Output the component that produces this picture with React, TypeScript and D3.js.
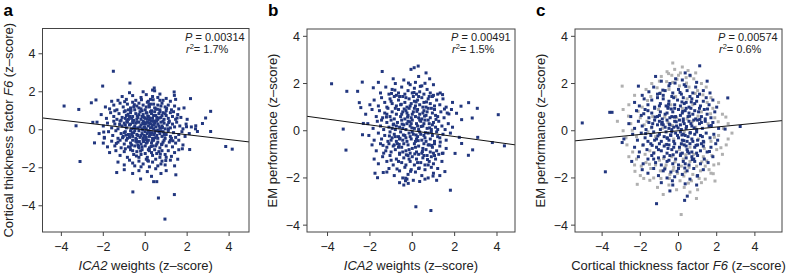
import React from "react";
import * as d3 from "d3";

// ---------- DATA ----------
const xTicks = [-4, -2, 0, 2, 4];
const yTicks = [-4, -2, 0, 2, 4];

const statP = ["0.00314", "0.00491", "0.00574"];
const statR2 = ["1.7%", "1.5%", "0.6%"];
const fitSlope = [-0.128, -0.123, 0.079];
const fitIntercept = [-0.005, 0.0, 0.0];

// panel a: ICA2 weights vs cortical thickness factor F6
const pointsA: [number, number][] = [
  [-1.52,3.08],[-2.03,2.3],[-0.73,2.46],[-3.87,1.25],[-3.17,1.07],[-2.57,1.42],[-2.35,1.57],[-3.3,0.21],[-2.42,-0.69],[-3.11,-1.67],
  [-1.36,-2.25],[-0.59,-3.27],[0.63,-3.59],[1.39,-3.41],[0.94,-4.7],[3.84,-0.88],[4.15,-1.02],[3.12,0.97],[2.88,0.62],[2.73,0.33],
  [3.12,-0.09],[2.16,1.64],[1.38,1.99],[1.39,1.81],[2.12,-1.04],[1.77,-1.0],[1.46,-2.37],[0.4,-2.73],[0.55,-2.73],[-0.22,-2.59],
  [-2.5,0.39],[-1.95,-0.44],[-1.98,-0.12],[0.43,2.2],[0.35,2.09],[0.7,1.88],[2.41,0.21],[2.49,-0.09],[1.97,0.16],
  [-1.1,1.75],[-0.9,1.6],[-0.6,1.8],[-0.45,1.55],[-0.2,1.7],[0.05,1.85],[0.25,1.6],[0.45,2.05],[0.6,1.7],[0.85,1.55],[1.0,1.65],[1.2,1.5],[-1.3,1.55],[-0.75,1.95],[0.15,1.5],[-0.1,2.0],[0.7,1.55],[1.45,1.6],[-1.6,1.5],[0.35,1.75],
  [-1.9,1.2],[-1.7,1.1],[-1.5,1.3],[-1.35,1.05],[-1.2,1.4],[-1.05,1.2],[-0.95,1.0],[-0.85,1.35],[-0.7,1.15],[-0.6,1.45],[-0.5,1.05],[-0.4,1.25],[-0.3,1.4],[-0.2,1.1],[-0.1,1.3],[0.0,1.05],[0.1,1.45],[0.2,1.2],[0.3,1.0],[0.4,1.35],[0.5,1.1],[0.6,1.3],[0.7,1.05],[0.8,1.4],[0.95,1.2],[1.1,1.3],[1.25,1.05],[1.4,1.25],[1.6,1.1],[-0.55,1.2],[0.25,1.35],[-0.15,1.0],[0.75,1.25],[1.85,1.15],[-1.45,1.0],[0.05,1.2],[-0.8,1.05],[0.45,1.15],[1.0,1.0],[-0.3,1.15],
  [-2.1,0.8],[-1.85,0.6],[-1.65,0.9],[-1.5,0.7],[-1.35,0.55],[-1.25,0.85],[-1.1,0.65],[-1.0,0.95],[-0.9,0.75],[-0.8,0.55],[-0.7,0.9],[-0.6,0.7],[-0.55,0.5],[-0.45,0.85],[-0.35,0.65],[-0.25,0.95],[-0.2,0.55],[-0.1,0.8],[0.0,0.6],[0.05,0.9],[0.15,0.7],[0.2,0.5],[0.3,0.85],[0.35,0.6],[0.45,0.95],[0.5,0.75],[0.6,0.55],[0.65,0.85],[0.75,0.65],[0.85,0.9],[0.9,0.55],[1.0,0.75],[1.1,0.6],[1.2,0.9],[1.3,0.7],[1.45,0.55],[1.55,0.8],[1.7,0.65],[2.0,0.55],[-0.75,0.7],[-0.05,0.65],[0.4,0.75],[-0.4,0.55],[0.25,0.95],[-1.15,0.5],[0.55,0.65],[-0.3,0.8],[0.1,0.55],[0.8,0.75],[-0.95,0.6],[0.7,0.95],[-0.15,0.7],[1.35,0.95],[-0.65,0.6],[0.95,0.85],
  [-2.3,0.4],[-2.0,0.2],[-1.8,0.35],[-1.6,0.1],[-1.45,0.3],[-1.3,0.05],[-1.2,0.45],[-1.1,0.2],[-1.0,0.35],[-0.9,0.1],[-0.85,0.4],[-0.75,0.25],[-0.65,0.05],[-0.6,0.45],[-0.5,0.2],[-0.45,0.35],[-0.35,0.1],[-0.3,0.4],[-0.2,0.25],[-0.15,0.05],[-0.1,0.45],[-0.05,0.15],[0.0,0.3],[0.05,0.05],[0.1,0.4],[0.15,0.2],[0.2,0.35],[0.25,0.1],[0.3,0.45],[0.35,0.25],[0.4,0.05],[0.45,0.35],[0.5,0.15],[0.55,0.45],[0.6,0.3],[0.7,0.1],[0.75,0.4],[0.8,0.2],[0.9,0.35],[0.95,0.05],[1.05,0.25],[1.15,0.45],[1.2,0.1],[1.3,0.3],[1.4,0.15],[1.5,0.4],[1.65,0.2],[1.8,0.05],[1.95,0.3],[2.2,0.15],[2.4,0.05],[-0.7,0.3],[-0.25,0.15],[0.25,0.3],[0.65,0.2],[-0.95,0.25],[-0.4,0.4],[0.85,0.45],[-1.5,0.45],[0.05,0.35],[-0.55,0.1],[1.1,0.05],[0.4,0.45],[-0.05,0.4],
  [-2.2,-0.2],[-1.95,-0.4],[-1.75,-0.1],[-1.55,-0.3],[-1.4,-0.05],[-1.3,-0.45],[-1.15,-0.2],[-1.05,-0.35],[-0.95,-0.1],[-0.85,-0.45],[-0.8,-0.25],[-0.7,-0.05],[-0.6,-0.35],[-0.55,-0.15],[-0.45,-0.45],[-0.4,-0.25],[-0.3,-0.05],[-0.25,-0.4],[-0.15,-0.2],[-0.1,-0.45],[-0.05,-0.3],[0.0,-0.1],[0.05,-0.4],[0.1,-0.2],[0.15,-0.05],[0.2,-0.35],[0.3,-0.15],[0.35,-0.45],[0.4,-0.25],[0.5,-0.05],[0.55,-0.3],[0.6,-0.45],[0.7,-0.2],[0.8,-0.35],[0.85,-0.1],[0.95,-0.45],[1.0,-0.25],[1.1,-0.05],[1.2,-0.35],[1.35,-0.15],[1.45,-0.4],[1.6,-0.25],[1.75,-0.1],[1.9,-0.35],[2.1,-0.2],[-0.65,-0.25],[-0.2,-0.3],[0.25,-0.25],[0.65,-0.1],[-1.0,-0.15],[0.45,-0.15],[-0.35,-0.3],[0.9,-0.2],[-0.5,-0.05],[1.25,-0.45],[-0.75,-0.4],[0.0,-0.35],[0.75,-0.05],
  [-2.0,-0.7],[-1.8,-0.9],[-1.6,-0.6],[-1.45,-0.85],[-1.3,-0.65],[-1.15,-0.95],[-1.0,-0.75],[-0.9,-0.55],[-0.8,-0.9],[-0.7,-0.7],[-0.6,-0.55],[-0.5,-0.85],[-0.4,-0.65],[-0.3,-0.95],[-0.2,-0.75],[-0.1,-0.55],[0.0,-0.85],[0.1,-0.65],[0.2,-0.95],[0.3,-0.7],[0.4,-0.55],[0.5,-0.85],[0.6,-0.65],[0.7,-0.95],[0.8,-0.75],[0.9,-0.55],[1.0,-0.85],[1.15,-0.65],[1.3,-0.9],[1.45,-0.7],[1.6,-0.55],[1.8,-0.8],[-0.65,-0.8],[-0.15,-0.9],[0.35,-0.85],[0.85,-0.65],[-1.2,-0.55],[0.15,-0.55],[-0.45,-0.6],[0.55,-0.75],[1.2,-0.55],[-0.35,-0.8],[0.05,-0.7],
  [-1.7,-1.2],[-1.4,-1.1],[-1.2,-1.35],[-1.0,-1.15],[-0.85,-1.45],[-0.7,-1.05],[-0.55,-1.3],[-0.4,-1.15],[-0.3,-1.45],[-0.15,-1.05],[0.0,-1.25],[0.1,-1.45],[0.2,-1.1],[0.35,-1.35],[0.45,-1.05],[0.55,-1.25],[0.7,-1.45],[0.8,-1.1],[0.95,-1.3],[1.1,-1.1],[1.25,-1.4],[1.4,-1.2],[1.6,-1.05],[-0.95,-1.0],[0.3,-1.2],[-0.6,-1.1],[0.65,-1.15],[-0.2,-1.3],[1.0,-1.45],[0.15,-1.05],
  [-1.3,-1.7],[-1.0,-1.85],[-0.75,-1.6],[-0.5,-1.9],[-0.3,-1.65],[-0.1,-1.8],[0.05,-1.55],[0.2,-1.95],[0.35,-1.7],[0.5,-1.55],[0.6,-1.9],[0.8,-1.65],[0.95,-1.85],[1.2,-1.6],[1.4,-1.9],[-0.6,-1.75],[0.15,-1.65],[0.75,-1.8],[-0.2,-1.95],[1.55,-1.55],
  [-1.0,-2.1],[-0.6,-2.3],[-0.3,-2.15],[0.1,-2.2],[0.3,-2.45],[0.5,-2.05],[0.75,-2.3],[1.0,-2.15],
  [-0.12,0.33],[0.18,-0.12],[-0.38,0.72],[0.42,0.28],[-0.62,-0.18],[0.67,0.62],[-0.88,0.48],[0.92,-0.28],[0.08,0.88],[-0.28,-0.62],[0.33,-0.58],[-0.52,1.32],[0.58,1.08],[-1.08,-0.42],[1.12,0.38],[-0.18,1.58],[0.28,-0.88],[-0.72,-0.92],[0.72,-1.28],[-0.42,-1.38],[0.12,-1.62],[-0.02,0.12],[0.22,0.62],[-0.48,0.08],[0.48,-0.42],[-0.82,0.82],[0.82,0.12],[-1.22,0.28],[1.32,-0.58],[-0.08,-0.62],[0.38,1.58],[-0.58,0.38],[0.62,-0.02],[-0.32,-0.88],[0.18,1.32],[-1.38,-0.72],[1.52,0.62],[-0.98,1.48],[0.98,-1.62],[-0.22,-1.12],
  [0.02,-0.52],[-0.68,1.02],[0.52,0.48],[-0.12,-0.02],[0.32,0.12],[-0.42,-0.52],[0.12,0.72],[-0.92,-0.28],[0.78,-0.78],[1.02,1.12]
];

// panel b: ICA2 weights vs EM performance
const pointsB: [number, number][] = [
  [-3.81,1.99],[-3.09,1.67],[-2.58,1.67],[-2.36,2.06],[-1.84,1.82],[-1.42,2.51],[-2.5,1.19],[-2.43,0.98],[-2.31,0.31],[-3.26,0.07],
  [-3.13,-0.82],[-2.35,-0.17],[-1.76,-1.8],[-1.64,-1.99],[-1.37,-1.77],[-0.06,2.6],[0.09,2.67],[0.28,2.74],[0.82,2.2],[0.6,2.01],
  [1.32,1.6],[1.43,1.53],[2.3,1.04],[2.66,1.19],[3.07,0.95],[4.06,0.68],[2.33,0.47],[2.83,0.54],[2.09,0.74],[1.73,0.71],
  [2.22,-0.28],[3.09,-0.28],[2.33,-0.54],[3.78,-0.5],[4.35,-0.64],[2.85,-0.81],[2.65,-1.04],[2.02,-0.96],[1.42,-0.96],[1.8,-2.52],
  [0.17,-3.22],[0.88,-3.38],[1.54,-1.73],[1.15,-2.1],[-0.19,-2.23],[-0.31,-2.01],
  [-1.5,1.6],[-1.25,1.85],[-1.1,1.55],[-0.95,1.75],[-0.8,2.0],[-0.65,1.6],[-0.5,1.85],[-0.35,1.55],[-0.2,1.7],[-0.1,1.95],[0.0,1.6],[0.1,1.8],[0.2,1.55],[0.35,1.65],[0.45,1.9],[0.55,1.55],[0.7,1.75],[0.85,1.6],[1.0,1.5],[1.2,1.55],[-0.9,2.2],[-0.4,2.15],[0.3,2.3],[0.65,2.45],[-1.6,2.05],[1.0,1.95],[-0.75,1.5],[0.15,2.05],
  [-2.0,1.1],[-1.8,1.3],[-1.6,1.05],[-1.45,1.4],[-1.3,1.2],[-1.2,1.0],[-1.05,1.35],[-0.95,1.15],[-0.85,1.45],[-0.75,1.05],[-0.65,1.3],[-0.55,1.1],[-0.45,1.45],[-0.35,1.2],[-0.25,1.0],[-0.15,1.35],[-0.05,1.15],[0.05,1.45],[0.15,1.05],[0.25,1.3],[0.35,1.1],[0.45,1.4],[0.55,1.2],[0.65,1.0],[0.75,1.35],[0.85,1.15],[0.95,1.45],[1.05,1.05],[1.15,1.3],[1.3,1.1],[1.45,1.35],[1.6,1.0],[-0.6,1.45],[0.1,1.25],[-0.3,1.4],[0.5,1.0],[-1.0,1.25],[0.8,1.45],[-0.1,1.05],[0.3,1.45],[1.9,1.2],
  [-2.2,0.7],[-1.9,0.9],[-1.7,0.6],[-1.55,0.85],[-1.4,0.55],[-1.3,0.75],[-1.15,0.95],[-1.05,0.6],[-0.95,0.8],[-0.85,0.5],[-0.75,0.7],[-0.65,0.9],[-0.55,0.6],[-0.45,0.8],[-0.35,0.5],[-0.25,0.75],[-0.15,0.95],[-0.05,0.55],[0.05,0.8],[0.15,0.6],[0.25,0.9],[0.35,0.7],[0.45,0.5],[0.55,0.85],[0.65,0.65],[0.75,0.95],[0.85,0.55],[0.95,0.75],[1.05,0.9],[1.2,0.6],[1.35,0.8],[1.5,0.55],[1.65,0.75],[1.85,0.9],[-0.8,0.95],[-0.2,0.65],[0.3,0.55],[0.7,0.8],[-0.5,0.7],[0.1,0.95],[-1.2,0.7],[1.1,0.65],[-0.3,0.85],[0.5,0.75],[0.0,0.7],[0.9,0.95],
  [-2.1,0.3],[-1.85,0.1],[-1.65,0.4],[-1.5,0.2],[-1.35,0.05],[-1.2,0.35],[-1.1,0.15],[-1.0,0.45],[-0.9,0.25],[-0.8,0.05],[-0.7,0.35],[-0.6,0.15],[-0.5,0.45],[-0.4,0.25],[-0.3,0.05],[-0.2,0.4],[-0.1,0.2],[0.0,0.45],[0.1,0.1],[0.2,0.3],[0.3,0.05],[0.4,0.4],[0.5,0.2],[0.6,0.45],[0.7,0.1],[0.8,0.3],[0.9,0.05],[1.0,0.35],[1.1,0.15],[1.25,0.4],[1.4,0.2],[1.55,0.05],[1.7,0.3],[1.9,0.15],[-0.75,0.2],[-0.25,0.3],[0.25,0.2],[0.75,0.45],[-0.45,0.1],[0.55,0.3],[-1.45,0.45],[1.2,0.05],[-0.05,0.3],[0.35,0.45],[-0.95,0.1],[0.95,0.25],
  [-2.05,-0.2],[-1.8,-0.4],[-1.6,-0.1],[-1.45,-0.35],[-1.3,-0.2],[-1.15,-0.45],[-1.05,-0.05],[-0.95,-0.3],[-0.85,-0.15],[-0.75,-0.45],[-0.65,-0.25],[-0.55,-0.05],[-0.45,-0.4],[-0.35,-0.2],[-0.25,-0.45],[-0.15,-0.1],[-0.05,-0.35],[0.05,-0.15],[0.15,-0.45],[0.25,-0.25],[0.35,-0.05],[0.45,-0.4],[0.55,-0.2],[0.65,-0.45],[0.75,-0.1],[0.85,-0.35],[0.95,-0.2],[1.05,-0.45],[1.15,-0.05],[1.3,-0.3],[1.45,-0.15],[1.6,-0.4],[1.8,-0.1],[-0.6,-0.35],[-0.1,-0.25],[0.4,-0.15],[0.9,-0.05],[-1.0,-0.4],[0.2,-0.35],[-0.3,-0.3],[0.6,-0.3],[0.0,-0.05],[-0.8,-0.25],[1.2,-0.25],
  [-1.9,-0.6],[-1.7,-0.85],[-1.5,-0.55],[-1.35,-0.95],[-1.2,-0.7],[-1.1,-0.55],[-1.0,-0.9],[-0.9,-0.65],[-0.8,-0.8],[-0.7,-0.55],[-0.6,-0.95],[-0.5,-0.7],[-0.4,-0.55],[-0.3,-0.85],[-0.2,-0.6],[-0.1,-0.95],[0.0,-0.75],[0.1,-0.55],[0.2,-0.9],[0.3,-0.65],[0.45,-0.95],[0.55,-0.55],[0.65,-0.8],[0.75,-0.6],[0.85,-0.9],[0.95,-0.7],[1.05,-0.55],[1.15,-0.85],[1.3,-0.65],[1.45,-0.95],[1.6,-0.75],[-0.65,-0.7],[-0.15,-0.8],[0.5,-0.75],[1.0,-0.95],[-1.25,-0.85],[0.15,-0.7],[-0.45,-0.9],[0.8,-0.6],[-0.85,-0.6],
  [-1.8,-1.2],[-1.6,-1.4],[-1.4,-1.1],[-1.2,-1.3],[-1.05,-1.05],[-0.9,-1.45],[-0.75,-1.2],[-0.6,-1.0],[-0.5,-1.35],[-0.4,-1.15],[-0.3,-1.45],[-0.2,-1.05],[-0.1,-1.3],[0.0,-1.1],[0.1,-1.45],[0.2,-1.2],[0.3,-1.0],[0.4,-1.35],[0.5,-1.15],[0.6,-1.45],[0.7,-1.05],[0.8,-1.3],[0.9,-1.1],[1.0,-1.4],[1.1,-1.2],[1.25,-1.0],[1.4,-1.3],[-0.65,-1.3],[0.25,-1.35],[0.75,-1.45],[-0.15,-1.2],[0.55,-1.05],[-1.0,-1.25],[1.05,-1.05],
  [-1.1,-1.6],[-0.85,-1.9],[-0.6,-1.7],[-0.45,-2.0],[-0.35,-1.55],[-0.2,-1.85],[-0.05,-1.65],[0.05,-2.1],[0.15,-1.75],[0.3,-1.6],[0.45,-1.9],[0.6,-1.65],[0.75,-2.0],[0.9,-1.55],[1.0,-1.8],[1.2,-1.6],[-0.6,-2.2],[-0.4,-2.3],[-0.25,-2.05],[0.35,-2.15],[0.6,-2.05],[1.3,-1.9],[-1.2,-1.75],
  [-0.12,0.38],[0.18,-0.18],[-0.38,0.92],[0.42,0.18],[-0.62,-0.58],[0.67,1.22],[-0.88,0.28],[0.92,-0.62],[0.08,1.62],[-0.28,-1.02],[0.33,-1.58],[-0.52,1.12],[0.58,0.62],[-1.08,-0.22],[1.12,0.48],[-0.18,2.02],[0.28,-0.42],[-0.72,-1.62],[0.72,-1.22],[-0.42,-0.18],[0.12,-0.98],[-0.02,0.12],[0.22,0.82],[-0.48,0.28],[0.48,-0.88],[-0.82,1.72],[0.82,0.12],[-1.22,0.58],[1.32,-0.48],[-0.08,-1.72],[0.38,1.88],[-0.58,-0.32],[0.62,-0.08],[-0.32,-2.12],[0.18,1.22],[-1.38,-0.62],[1.52,0.92],[-0.98,1.58],[0.98,-1.92],[-0.22,0.58]
];

// panel c: cortical thickness factor F6 vs EM performance (two groups)
const pointsCNavy: [number, number][] = [
  [-1.9,1.5],[-1.55,1.65],[-1.3,1.85],[-1.1,1.55],[-0.9,2.1],[-0.7,1.7],[-0.5,1.9],[-0.3,1.6],[-0.15,2.2],[0.0,1.75],[0.15,1.55],[0.3,1.95],[0.45,1.7],[0.6,2.35],[0.75,1.6],[0.9,1.85],[1.1,1.55],[1.3,1.7],[1.5,2.1],[-1.2,2.3],[0.35,2.45],[1.11,2.75],[-0.45,2.0],[0.95,2.05],[-2.1,1.89],[1.65,1.6],[-0.8,1.5],[0.2,2.15],
  [-2.3,1.2],[-2.05,1.05],[-1.8,1.35],[-1.6,1.1],[-1.4,1.3],[-1.25,1.0],[-1.1,1.4],[-0.95,1.15],[-0.8,1.35],[-0.65,1.05],[-0.5,1.25],[-0.35,1.45],[-0.2,1.1],[-0.05,1.3],[0.1,1.05],[0.25,1.4],[0.4,1.2],[0.55,1.0],[0.7,1.35],[0.85,1.15],[1.0,1.45],[1.15,1.05],[1.3,1.25],[1.45,1.4],[1.6,1.1],[1.8,1.3],[-0.55,1.0],[0.3,1.15],[-1.0,1.05],[0.95,1.25],[-0.25,1.4],[0.6,1.45],[2.0,1.0],[2.58,1.39],
  [-3.6,0.78],[-3.48,0.78],[-2.5,0.6],[-2.2,0.85],[-1.95,0.65],[-1.75,0.9],[-1.55,0.55],[-1.4,0.75],[-1.25,0.95],[-1.1,0.6],[-0.95,0.8],[-0.85,0.5],[-0.7,0.7],[-0.55,0.95],[-0.45,0.55],[-0.3,0.8],[-0.15,0.6],[0.0,0.9],[0.1,0.65],[0.25,0.5],[0.35,0.85],[0.5,0.6],[0.65,0.95],[0.75,0.7],[0.9,0.5],[1.05,0.8],[1.2,0.6],[1.35,0.9],[1.5,0.7],[1.7,0.55],[1.9,0.8],[-0.6,0.75],[0.2,0.75],[0.85,0.85],[-1.0,0.65],[1.4,0.5],[-0.2,0.95],[0.55,0.75],[-1.6,0.85],[1.1,0.95],[-0.35,0.6],[0.4,0.95],
  [-5.04,0.33],[-2.6,0.3],[-2.3,0.1],[-2.1,0.4],[-1.9,0.2],[-1.7,0.05],[-1.55,0.35],[-1.4,0.15],[-1.25,0.45],[-1.1,0.25],[-0.95,0.05],[-0.85,0.35],[-0.7,0.15],[-0.6,0.45],[-0.45,0.25],[-0.35,0.05],[-0.2,0.4],[-0.1,0.2],[0.05,0.45],[0.15,0.05],[0.3,0.3],[0.4,0.1],[0.55,0.4],[0.7,0.2],[0.8,0.45],[0.95,0.05],[1.1,0.3],[1.25,0.1],[1.4,0.4],[1.6,0.2],[1.8,0.35],[2.1,0.1],[2.44,0.07],[3.23,0.18],[-0.8,0.25],[-0.25,0.15],[0.25,0.4],[0.65,0.3],[-1.35,0.3],[1.0,0.45],[-0.5,0.1],[0.1,0.25],[1.2,0.35],[-1.0,0.4],
  [-2.95,-0.5],[-2.86,-0.35],[-2.4,-0.15],[-2.15,-0.4],[-1.95,-0.1],[-1.75,-0.3],[-1.6,-0.45],[-1.45,-0.2],[-1.3,-0.05],[-1.15,-0.35],[-1.0,-0.15],[-0.9,-0.45],[-0.75,-0.25],[-0.65,-0.05],[-0.5,-0.4],[-0.4,-0.2],[-0.25,-0.45],[-0.15,-0.1],[0.0,-0.3],[0.1,-0.05],[0.2,-0.4],[0.35,-0.2],[0.45,-0.45],[0.6,-0.1],[0.7,-0.35],[0.85,-0.15],[1.0,-0.4],[1.15,-0.2],[1.3,-0.45],[1.45,-0.1],[1.65,-0.3],[1.85,-0.15],[2.05,-0.4],[-0.6,-0.3],[-0.05,-0.2],[0.5,-0.25],[0.95,-0.05],[-1.25,-0.4],[0.25,-0.15],[1.25,-0.25],[-0.35,-0.05],[0.75,-0.45],
  [-2.3,-0.7],[-2.05,-0.9],[-1.85,-0.6],[-1.65,-0.8],[-1.45,-0.55],[-1.3,-0.95],[-1.15,-0.7],[-1.0,-0.55],[-0.9,-0.85],[-0.75,-0.65],[-0.6,-0.95],[-0.5,-0.6],[-0.35,-0.8],[-0.2,-0.55],[-0.1,-0.9],[0.05,-0.7],[0.2,-0.95],[0.3,-0.6],[0.45,-0.8],[0.6,-0.55],[0.7,-0.9],[0.85,-0.7],[1.0,-0.6],[1.15,-0.85],[1.3,-0.65],[1.5,-0.9],[1.7,-0.7],[1.95,-0.55],[-0.55,-0.75],[0.15,-0.55],[0.55,-0.95],[-1.05,-0.8],[0.95,-0.95],[-0.25,-0.7],[1.2,-0.55],[0.4,-0.65],
  [-2.45,-1.3],[-2.1,-1.1],[-1.85,-1.4],[-1.6,-1.2],[-1.4,-1.05],[-1.2,-1.35],[-1.05,-1.15],[-0.9,-1.45],[-0.75,-1.1],[-0.6,-1.3],[-0.45,-1.05],[-0.3,-1.4],[-0.15,-1.2],[0.0,-1.45],[0.1,-1.05],[0.25,-1.3],[0.4,-1.15],[0.55,-1.45],[0.7,-1.1],[0.85,-1.3],[1.0,-1.05],[1.15,-1.4],[1.35,-1.2],[1.55,-1.35],[1.8,-1.1],[-0.5,-1.25],[0.35,-1.4],[0.8,-1.2],[-1.3,-1.2],
  [-3.83,-1.74],[-1.9,-1.65],[-1.6,-1.8],[-1.3,-1.6],[-1.05,-1.9],[-0.8,-1.7],[-0.6,-2.0],[-0.4,-1.75],[-0.2,-1.95],[0.0,-1.6],[0.2,-1.85],[0.45,-1.7],[0.6,-2.05],[0.8,-1.6],[1.0,-1.9],[1.3,-1.65],[-0.9,-2.2],[-0.3,-2.3],[0.35,-2.25],[-1.15,-3.09],[0.32,-2.95],[0.46,-2.77],[-0.45,-2.55],[0.95,-2.3],
  [-0.12,0.38],[0.18,-0.18],[-0.38,0.92],[0.42,0.18],[-0.62,-0.58],[0.67,1.22],[-0.88,0.28],[0.92,-0.62],[0.08,1.62],[-0.28,-1.02],[0.33,-1.58],[-0.52,1.12],[0.58,0.62],[-1.08,-0.22],[1.12,0.48],[-0.18,2.02],[0.28,-0.42],[-0.72,-1.62],[0.72,-1.22],[-0.42,-0.18],[0.12,-0.98],[-0.02,0.12],[0.22,0.82],[-0.48,0.28],[0.48,-0.88],[-0.82,1.72],[0.82,0.12],[-1.22,0.58],[1.32,-0.48],[-0.08,-1.72],[0.38,1.88],[-0.58,-0.32],[0.62,-0.08],[-0.32,-2.12],[0.18,1.22],[-1.38,-0.62],[1.52,0.92],[-0.98,1.58],[0.98,-1.92],[-0.22,0.58],[1.72,0.22],[-1.72,-0.12],[1.62,-0.88],[-1.82,0.72]
];

const pointsCGray: [number, number][] = [
  [-2.95,1.89],[0.14,-3.55],[0.94,-2.87],[1.91,-2.13],[-2.16,-2.27],[-0.3,2.87],
  [-0.6,2.5],[-0.2,2.6],[0.2,2.7],[0.5,2.55],[-0.9,2.3],[0.8,2.2],[-1.4,2.0],[1.2,2.0],[0.0,2.35],[-0.35,2.35],[0.4,2.25],[1.45,1.85],[-1.7,1.75],[-2.3,1.5],[1.7,1.4],[2.1,1.2],[-2.6,1.1],[-2.9,0.9],[2.3,0.7],[-3.2,0.4],[2.6,0.3],[-2.9,0.0],[2.8,-0.1],[-2.7,-0.6],[2.5,-0.6],[-2.6,-1.1],[2.3,-1.0],[-2.3,-1.45],[2.1,-1.4],[-2.0,-1.9],[1.7,-1.8],[-1.5,-2.1],[1.4,-2.05],[-1.1,-2.4],[-0.8,-2.7],[-0.5,-2.3],[-0.1,-2.5],[0.3,-2.4],[0.6,-2.6],[1.0,-2.5],[1.2,-2.2],[-1.3,-2.0],
  [-2.2,-1.2],[-1.95,-1.5],[-1.7,-1.35],[-1.45,-1.6],[-1.2,-1.45],[-0.95,-1.7],[-0.7,-1.55],[-0.45,-1.85],[-0.25,-1.55],[-0.05,-1.8],[0.15,-1.5],[0.35,-1.75],[0.55,-1.55],[0.75,-1.85],[0.95,-1.5],[1.15,-1.7],[1.4,-1.5],[1.6,-1.65],[1.85,-1.45],[-1.75,-1.0],[-1.5,-0.85],[-2.4,-0.9],[2.0,-0.8],[1.75,-1.05],
  [-2.0,0.55],[-1.8,0.25],[-1.6,-0.05],[-1.35,0.6],[-1.2,-0.25],[-1.05,0.9],[-0.85,0.1],[-0.7,-0.6],[-0.55,0.35],[-0.4,1.1],[-0.25,-0.35],[-0.1,0.55],[0.05,-0.8],[0.2,0.95],[0.3,-0.05],[0.45,0.5],[0.6,-0.7],[0.75,1.1],[0.9,0.15],[1.05,-0.35],[1.2,0.8],[1.35,-0.75],[1.55,0.3],[1.7,-0.45],[1.9,0.55],[2.1,-0.2],[-2.2,-0.25],[-1.9,1.0],[-1.45,1.45],[-0.95,1.6],[-0.5,1.75],[0.05,1.9],[0.55,1.85],[1.0,1.7],[1.5,1.2],[-1.0,-1.25],[-0.35,-1.1],[0.25,-1.2],[0.8,-1.0],[1.3,-1.1],[-2.5,0.3],[2.35,0.1],[-0.15,1.45],[0.45,1.35],[-0.65,-1.45],[0.6,-1.3],[-1.65,0.4],[1.8,0.95],[-2.75,-0.3],[2.6,-0.35],[-0.3,2.05],[0.9,2.45],[-1.0,2.1],[0.1,2.45],
  [-2.12,0.82],[-1.88,-0.62],[-1.62,1.28],[-1.28,-0.92],[-1.12,1.82],[-0.78,-1.18],[-0.62,2.08],[-0.28,-1.68],[-0.08,2.18],[0.28,-1.92],[0.42,2.02],[0.68,-2.12],[0.88,1.58],[1.08,-2.02],[1.28,1.52],[1.48,-1.28],[1.68,0.72],[1.88,-0.28],[2.08,0.38],[2.22,-0.72],[-2.42,0.02],[-2.28,-1.72],[-0.48,-2.02],[0.08,-2.12],[0.52,-2.22],[-1.52,-1.42],[-0.92,-2.02],[1.22,-1.32],[-0.18,-1.32],[0.38,-1.02],[-0.72,0.58],[0.72,0.38],[-0.32,0.22],[0.18,-0.58],[1.02,0.62],[-1.42,0.12],[-2.62,0.62],[2.48,0.58],[-0.52,2.42],[0.62,2.32],[1.82,-1.82],[-1.82,-2.02]
];

// ---------- LAYOUT ----------
const NAVY = "#22377f";
const GRAY = "#b0b0b0";
const FONT = "'Liberation Sans', Arial, Helvetica, sans-serif";

type Panel = {
  letter: string;
  left: number; right: number; top: number; bottom: number;
  xd: [number, number]; yd: [number, number];
  layers: { pts: [number, number][]; color: string }[];
  xTitle: React.ReactNode; yTitle: React.ReactNode;
  idx: number;
};

const panels: Panel[] = [
  {
    letter: "a", left: 42.5, right: 249, top: 28.5, bottom: 232,
    xd: [-4.9, 4.95], yd: [-5.38, 5.33],
    layers: [{ pts: pointsA, color: NAVY }],
    xTitle: (<><tspan fontStyle="italic">ICA2</tspan> weights (z–score)</>),
    yTitle: (<>Cortical thickness factor <tspan fontStyle="italic">F6</tspan> (z–score)</>),
    idx: 0,
  },
  {
    letter: "b", left: 307, right: 515, top: 29, bottom: 232,
    xd: [-4.97, 4.85], yd: [-4.29, 4.31],
    layers: [{ pts: pointsB, color: NAVY }],
    xTitle: (<><tspan fontStyle="italic">ICA2</tspan> weights (z–score)</>),
    yTitle: (<>EM performance (z–score)</>),
    idx: 1,
  },
  {
    letter: "c", left: 575, right: 782, top: 29, bottom: 232,
    xd: [-5.42, 5.42], yd: [-4.29, 4.31],
    layers: [{ pts: pointsCGray, color: GRAY }, { pts: pointsCNavy, color: NAVY }],
    xTitle: (<>Cortical thickness factor <tspan fontStyle="italic">F6</tspan> (z–score)</>),
    yTitle: (<>EM performance (z–score)</>),
    idx: 2,
  },
];

const fmt = (v: number) => (v < 0 ? "\u2212" + Math.abs(v) : String(v));

function PanelView({ p }: { p: Panel }) {
  const x = d3.scaleLinear().domain(p.xd).range([p.left, p.right]);
  const y = d3.scaleLinear().domain(p.yd).range([p.bottom, p.top]);
  const s = 3;
  const slope = fitSlope[p.idx];
  const icpt = fitIntercept[p.idx];
  const line = d3.line<number>().x((v) => x(v)).y((v) => y(slope * v + icpt));
  const cy = (p.top + p.bottom) / 2;
  const cx = (p.left + p.right) / 2;
  return (
    <g>
      <text x={p.left - 39} y={16} fontSize={17} fontWeight="bold" fontFamily={FONT}>{p.letter}</text>
      <defs>
        <clipPath id={"clip" + p.idx}>
          <rect x={p.left} y={p.top} width={p.right - p.left} height={p.bottom - p.top} />
        </clipPath>
      </defs>
      <g clipPath={`url(#clip${p.idx})`}>
        {p.layers.map((layer, li) =>
          layer.pts.map((d, i) => (
            <rect key={li + "-" + i} x={x(d[0]) - s / 2} y={y(d[1]) - s / 2} width={s} height={s} fill={layer.color} />
          ))
        )}
        <path d={line(p.xd) || ""} stroke="#111" strokeWidth={1} fill="none" />
      </g>
      <rect x={p.left} y={p.top} width={p.right - p.left} height={p.bottom - p.top} fill="none" stroke="#444" strokeWidth={1} />
      {xTicks.map((t) => (
        <g key={"xt" + t}>
          <line x1={x(t)} x2={x(t)} y1={p.bottom} y2={p.bottom + 4} stroke="#444" />
          <text x={x(t)} y={251} fontSize={12.5} textAnchor="middle" fontFamily={FONT} fill="#222">{fmt(t)}</text>
        </g>
      ))}
      {yTicks.map((t) => (
        <g key={"yt" + t}>
          <line x1={p.left - 4} x2={p.left} y1={y(t)} y2={y(t)} stroke="#444" />
          <text x={p.left - 7} y={y(t)} dy="0.36em" fontSize={12.5} textAnchor="end" fontFamily={FONT} fill="#222">{fmt(t)}</text>
        </g>
      ))}
      <text x={cx} y={270} fontSize={13} textAnchor="middle" fontFamily={FONT} fill="#222">{p.xTitle}</text>
      <text transform={`translate(${p.left - 29.6},${cy}) rotate(-90)`} fontSize={13} textAnchor="middle" fontFamily={FONT} fill="#222">{p.yTitle}</text>
      <text x={p.right - 64} y={40.5} fontSize={11} fontFamily={FONT} fill="#222">
        <tspan fontStyle="italic">P</tspan> = {statP[p.idx]}
      </text>
      <text x={p.right - 63} y={52.5} fontSize={11} fontFamily={FONT} fill="#222">
        <tspan fontStyle="italic">r</tspan>
        <tspan dy={-4} fontSize={7.5}>2</tspan>
        <tspan dy={4}>= {statR2[p.idx]}</tspan>
      </text>
    </g>
  );
}

export default function App() {
  return (
    <svg width={788} height={274} style={{ position: "absolute", left: 0, top: 0, background: "#fff" }}>
      <rect x={0} y={0} width={788} height={274} fill="#fff" />
      {panels.map((p) => (
        <PanelView key={p.letter} p={p} />
      ))}
    </svg>
  );
}
